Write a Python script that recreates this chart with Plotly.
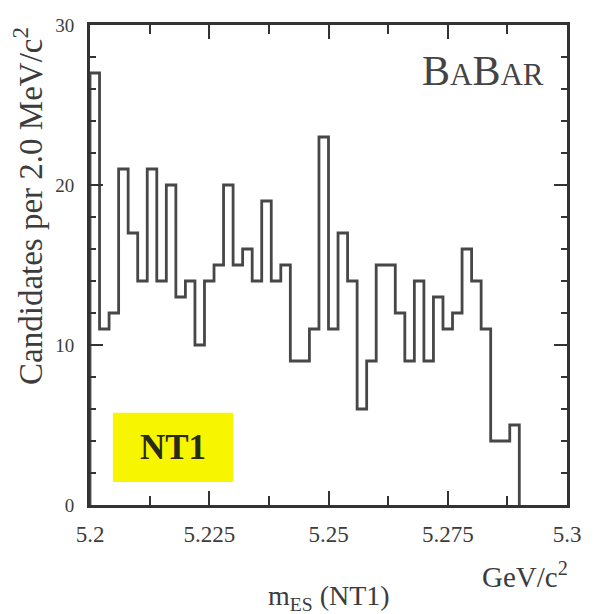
import numpy as np
import plotly.graph_objects as go

# m_ES spectrum, 2 MeV/c^2 bins starting at 5.200 GeV/c^2
bin_low = 5.200
bin_width = 0.002
counts = [27, 11, 12, 21, 17, 14, 21, 14, 20, 13,
          14, 10, 14, 15, 20, 15, 16, 14, 19, 14,
          15, 9, 9, 11, 23, 11, 17, 14, 6, 9,
          15, 15, 12, 9, 14, 9, 13, 11, 12, 16,
          14, 11, 4, 4, 5]

x_tickvals = [5.2, 5.225, 5.25, 5.275, 5.3]
x_ticktext = ["5.2", "5.225", "5.25", "5.275", "5.3"]
y_tickvals = [0, 10, 20, 30]

edges = bin_low + bin_width * np.arange(len(counts) + 1)
step_x = np.concatenate([[edges[0]], edges[:-1], [edges[-1]]])
step_y = np.concatenate([[0], counts, [0]])

SERIF = "Liberation Serif"
INK = "#3c3c3c"
AXIS = "#333333"

fig = go.Figure()
fig.add_trace(go.Scatter(
    x=step_x, y=step_y, mode="lines",
    line=dict(shape="hv", color="#474747", width=2.8),
    hoverinfo="skip", showlegend=False,
))

axis_common = dict(
    showgrid=False, zeroline=False, showline=True, linecolor=AXIS,
    linewidth=2.8, mirror="ticks", ticks="inside", tickcolor=AXIS,
    tickwidth=2,
)

fig.update_xaxes(
    range=[5.2, 5.3], tickvals=x_tickvals, ticktext=x_ticktext,
    ticklen=14, tickfont=dict(family=SERIF, size=23, color=INK),
    ticklabelstandoff=6,
    minor=dict(dtick=0.0125, tick0=5.2, ticks="inside", ticklen=9,
               tickcolor=AXIS, tickwidth=2),
    **axis_common,
)
fig.update_yaxes(
    range=[0, 30], tickvals=y_tickvals,
    ticklen=13, tickfont=dict(family=SERIF, size=19, color=INK),
    ticklabelstandoff=9,
    minor=dict(dtick=2, tick0=0, ticks="inside", ticklen=6,
               tickcolor=AXIS, tickwidth=2),
    **axis_common,
)

annotations = [
    dict(text="Candidates per 2.0 MeV/c<sup>2</sup>", textangle=-90,
         xref="paper", yref="paper", x=-0.13, y=0.623,
         xanchor="center", yanchor="middle", showarrow=False,
         font=dict(family=SERIF, size=33, color=INK)),
    dict(text="GeV/c<sup>2</sup>", xref="paper", yref="paper",
         x=0.912, y=-0.146, xanchor="center", yanchor="middle",
         showarrow=False, font=dict(family=SERIF, size=29, color=INK)),
    dict(text="m<sub>ES</sub> (NT1)", xref="paper", yref="paper",
         x=0.5, y=-0.192, xanchor="center", yanchor="middle",
         showarrow=False, font=dict(family=SERIF, size=28, color=INK)),
    dict(text="B<span style='font-size:31px'>A</span>B<span style='font-size:31px'>AR</span>",
         xref="paper", yref="paper", x=0.955, y=0.905,
         xanchor="right", yanchor="middle", showarrow=False,
         font=dict(family=SERIF, size=42, color="#444444")),
    dict(text="<b>NT1</b>", xref="paper", yref="paper",
         x=0.174, y=0.12, xanchor="center", yanchor="middle",
         showarrow=False, font=dict(family=SERIF, size=35, color="#2a2a1a")),
]

fig.update_layout(
    width=597, height=614,
    margin=dict(l=90, r=30, t=25, b=109),
    paper_bgcolor="white", plot_bgcolor="white",
    annotations=annotations,
    shapes=[dict(type="rect", xref="paper", yref="paper",
                 x0=0.048, x1=0.30, y0=0.048, y1=0.192,
                 fillcolor="#f8f500", line=dict(width=0), layer="below")],
)

fig.write_html("out.html")
